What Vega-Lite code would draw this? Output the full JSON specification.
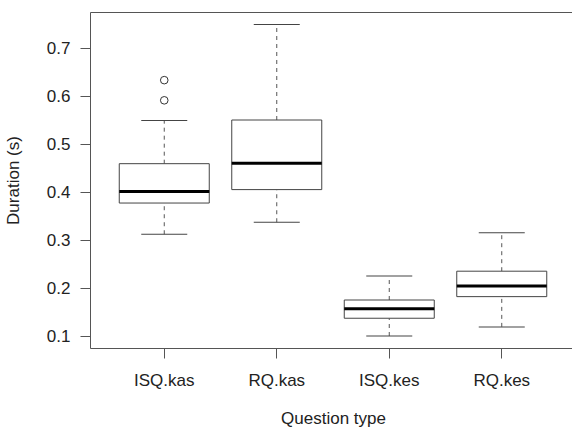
{
  "$schema": "https://vega.github.io/schema/vega-lite/v6.json",
  "width": 482,
  "height": 336,
  "autosize": {"type": "none"},
  "padding": {"left": 90, "top": 12, "right": 0, "bottom": 87},
  "background": "white",
  "config": {
    "view": {"stroke": null},
    "font": "Liberation Sans",
    "axis": {
      "domainColor": "#555",
      "tickColor": "#555",
      "labelColor": "#222",
      "titleColor": "#222",
      "labelFontSize": 17,
      "titleFontSize": 17,
      "titleFontWeight": "normal",
      "grid": false,
      "tickSize": 10
    }
  },
  "datasets": {
    "stats": [
      {"type": "ISQ.kas", "lower": 0.312, "q1": 0.377, "median": 0.401, "q3": 0.459, "upper": 0.549},
      {"type": "RQ.kas", "lower": 0.337, "q1": 0.405, "median": 0.46, "q3": 0.55, "upper": 0.749},
      {"type": "ISQ.kes", "lower": 0.100, "q1": 0.137, "median": 0.157, "q3": 0.175, "upper": 0.225},
      {"type": "RQ.kes", "lower": 0.119, "q1": 0.182, "median": 0.204, "q3": 0.235, "upper": 0.315}
    ],
    "outliers": [
      {"type": "ISQ.kas", "value": 0.633},
      {"type": "ISQ.kas", "value": 0.591}
    ]
  },
  "layer": [
    {
      "data": {"name": "stats"},
      "encoding": {
        "x": {
          "field": "type",
          "type": "nominal",
          "sort": ["ISQ.kas", "RQ.kas", "ISQ.kes", "RQ.kes"],
          "scale": {"range": [0, 486], "paddingInner": 0.2, "paddingOuter": 0.26},
          "axis": {"title": "Question type", "labelAngle": 0, "labelPadding": 14, "titlePadding": 22}
        }
      },
      "layer": [
        {
          "mark": {"type": "rule", "stroke": "#555", "strokeDash": [4, 4], "strokeWidth": 1},
          "encoding": {
            "y": {
              "field": "lower",
              "type": "quantitative",
              "scale": {"domain": [0.075, 0.775], "nice": false, "zero": false},
              "axis": {"title": "Duration (s)", "values": [0.1, 0.2, 0.3, 0.4, 0.5, 0.6, 0.7], "format": ".1f", "labelPadding": 10, "titlePadding": 24}
            },
            "y2": {"field": "q1"}
          }
        },
        {
          "mark": {"type": "rule", "stroke": "#555", "strokeDash": [4, 4], "strokeWidth": 1},
          "encoding": {"y": {"field": "q3", "type": "quantitative"}, "y2": {"field": "upper"}}
        },
        {
          "mark": {"type": "tick", "color": "#444", "opacity": 1, "size": 46, "thickness": 1},
          "encoding": {"y": {"field": "lower", "type": "quantitative"}}
        },
        {
          "mark": {"type": "tick", "color": "#444", "opacity": 1, "size": 46, "thickness": 1},
          "encoding": {"y": {"field": "upper", "type": "quantitative"}}
        },
        {
          "mark": {"type": "bar", "fill": "white", "stroke": "#444", "strokeWidth": 1},
          "encoding": {"y": {"field": "q1", "type": "quantitative"}, "y2": {"field": "q3"}}
        },
        {
          "mark": {"type": "tick", "color": "black", "opacity": 1, "size": 90, "thickness": 3},
          "encoding": {"y": {"field": "median", "type": "quantitative"}}
        }
      ]
    },
    {
      "data": {"name": "outliers"},
      "mark": {"type": "point", "shape": "circle", "filled": false, "stroke": "#333", "opacity": 1, "strokeWidth": 1, "size": 58},
      "encoding": {
        "x": {
          "field": "type",
          "type": "nominal",
          "sort": ["ISQ.kas", "RQ.kas", "ISQ.kes", "RQ.kes"],
          "axis": {"orient": "top", "title": null, "labels": false, "ticks": false, "domainColor": "#555"}
        },
        "y": {"field": "value", "type": "quantitative"}
      }
    }
  ],
  "resolve": {"axis": {"x": "independent"}}
}
